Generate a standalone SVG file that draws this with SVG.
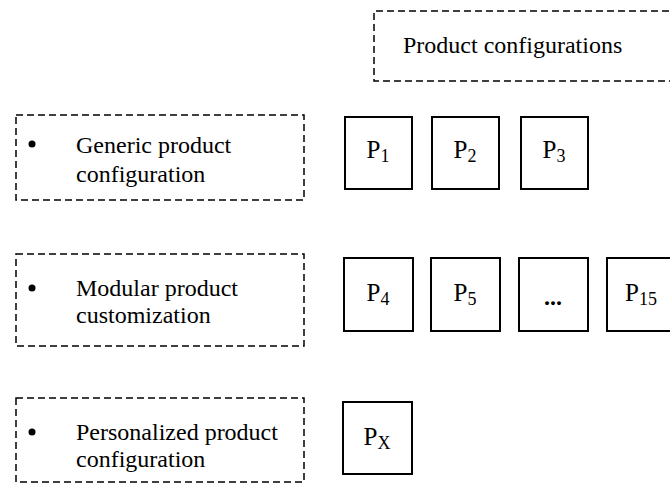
<svg xmlns="http://www.w3.org/2000/svg" width="670" height="491" viewBox="0 0 670 491">
<style>
.dash{fill:none;stroke:#000;stroke-width:1.5;stroke-dasharray:7 4}
.box{fill:#fff;stroke:#000;stroke-width:2}
.t{font-family:"Liberation Serif","Times New Roman",serif;font-size:24px;fill:#000}
.p{font-size:25px}
.sub{font-size:18px}
</style>
<rect width="670" height="491" fill="#fff"/>
<g id="header">
<path class="dash" d="M680 11 H374 V81 H680"/>
<text class="t" x="403" y="53">Product configurations</text>
</g>
<g id="cat-generic">
<rect class="dash" x="16" y="115" width="288" height="85"/>
<circle cx="32" cy="144" r="3.5"/>
<text class="t" x="76" y="153">Generic product</text>
<text class="t" x="76" y="182">configuration</text>
</g>
<g id="cat-modular">
<rect class="dash" x="16" y="254" width="288" height="92"/>
<circle cx="32" cy="288" r="3.5"/>
<text class="t" x="76" y="296">Modular product</text>
<text class="t" x="76" y="323">customization</text>
</g>
<g id="cat-personalized">
<rect class="dash" x="16" y="398" width="288" height="84"/>
<circle cx="32" cy="432" r="3.5"/>
<text class="t" x="76" y="440">Personalized product</text>
<text class="t" x="76" y="467">configuration</text>
</g>
<g id="p1"><rect class="box" x="345" y="117" width="67" height="72"/><text class="t p" x="378" y="158" text-anchor="middle">P<tspan class="sub" dy="4">1</tspan></text></g>
<g id="p2"><rect class="box" x="432" y="117" width="67" height="72"/><text class="t p" x="465" y="158" text-anchor="middle">P<tspan class="sub" dy="4">2</tspan></text></g>
<g id="p3"><rect class="box" x="521" y="117" width="67" height="72"/><text class="t p" x="554" y="158" text-anchor="middle">P<tspan class="sub" dy="4">3</tspan></text></g>
<g id="p4"><rect class="box" x="344" y="258" width="69" height="73"/><text class="t p" x="378" y="301" text-anchor="middle">P<tspan class="sub" dy="4">4</tspan></text></g>
<g id="p5"><rect class="box" x="431" y="258" width="69" height="73"/><text class="t p" x="465" y="301" text-anchor="middle">P<tspan class="sub" dy="4">5</tspan></text></g>
<g id="pdots"><rect class="box" x="519" y="258" width="69" height="73"/><text class="t" x="553" y="305" text-anchor="middle" font-weight="bold">...</text></g>
<g id="p15"><rect class="box" x="607" y="258" width="69" height="73"/><text class="t p" x="641" y="301" text-anchor="middle">P<tspan class="sub" dy="4">15</tspan></text></g>
<g id="px"><rect class="box" x="343" y="402" width="69" height="72"/><text class="t p" x="377" y="445" text-anchor="middle">P<tspan class="sub" dy="4">X</tspan></text></g>
<g id="connectors"></g>
</svg>
